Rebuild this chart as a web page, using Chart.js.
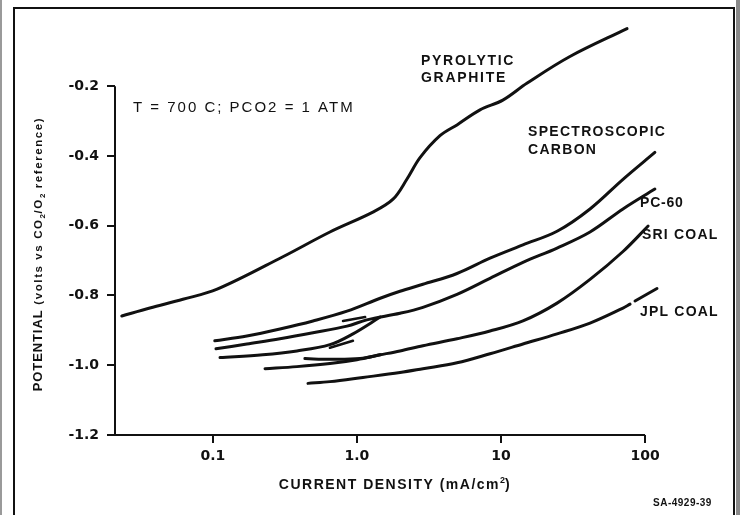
<!DOCTYPE html>
<html>
<head>
<meta charset="utf-8">
<title>Potential vs current density, 700 C</title>
<script src="https://cdn.jsdelivr.net/npm/chart.js@4.4.1/dist/chart.umd.min.js"></script>
<style>
  html, body { margin: 0; padding: 0; background: #fff; }
  #box { width: 740px; height: 515px; position: relative; }
</style>
</head>
<body>
<div id="box"><canvas id="chart"></canvas></div>
<script>
// current density (mA/cm2) on x, potential (volts) on y
const pyroliticX = [0.0233, 0.0365, 0.0619, 0.107, 0.306, 0.649, 1.29, 1.78, 2.22, 2.74, 3.77, 4.95, 7.15, 10.3, 15.2, 30.1, 75];
const pyroliticY = [-0.859, -0.836, -0.811, -0.782, -0.689, -0.618, -0.561, -0.524, -0.467, -0.405, -0.342, -0.311, -0.268, -0.240, -0.191, -0.115, -0.035];

const spectroX = [0.103, 0.172, 0.292, 0.495, 0.853, 1.45, 1.99, 2.87, 4.95, 8.39, 14.2, 24.5, 41.5, 70.3, 117];
const spectroY = [-0.930, -0.916, -0.896, -0.873, -0.845, -0.808, -0.788, -0.768, -0.737, -0.693, -0.655, -0.616, -0.552, -0.467, -0.390];

const pc60X = [0.105, 0.172, 0.292, 0.495, 0.853, 1.17, 1.99, 2.87, 4.95, 8.39, 14.2, 24.5, 41.5, 70.3, 117];
const pc60Y = [-0.953, -0.939, -0.924, -0.907, -0.888, -0.870, -0.851, -0.834, -0.797, -0.751, -0.705, -0.664, -0.618, -0.552, -0.495];
// second branch that runs into the PC-60 curve near 1 mA/cm2
const pc60LowX = [0.112, 0.222, 0.383, 0.649, 0.938, 1.45];
const pc60LowY = [-0.978, -0.970, -0.959, -0.941, -0.910, -0.862];

const sriX = [0.435, 0.649, 1.05, 1.45, 1.99, 2.87, 4.95, 8.39, 14.2, 24.5, 41.5, 70.3, 105];
const sriY = [-0.981, -0.983, -0.981, -0.970, -0.959, -0.944, -0.924, -0.902, -0.873, -0.822, -0.754, -0.674, -0.601];
const sriLowX = [0.230, 0.383, 0.649, 1.0, 1.45];
const sriLowY = [-1.010, -1.004, -0.995, -0.984, -0.970];

const jplX = [0.457, 0.649, 1.10, 1.99, 2.87, 4.95, 8.39, 14.2, 24.5, 41.5, 70.3, 78.7, 82, 85.2, 121];
const jplY = [-1.052, -1.047, -1.035, -1.021, -1.010, -0.993, -0.967, -0.939, -0.910, -0.879, -0.836, -0.825, null, -0.816, -0.780];

// the two little arrow strokes near 1 mA/cm2
const arrowUpX = [0.80, 1.14];
const arrowUpY = [-0.873, -0.862];
const arrowDownX = [0.649, 0.938];
const arrowDownY = [-0.950, -0.930];

const xTicks = [0.1, 1, 10, 100];
const xTickLabels = ["0.1", "1.0", "10", "100"];
const yTicks = [-0.2, -0.4, -0.6, -0.8, -1.0, -1.2];

const INK = "#111";

function pts(xs, ys) {
    return xs.map((x, i) => ({ x: x, y: ys[i] }));
}

function curve(xs, ys, width) {
    return {
        data: pts(xs, ys),
        borderColor: INK,
        borderWidth: width || 3,
        pointRadius: 0,
        fill: false,
        spanGaps: false,
        tension: 0.35,
        borderCapStyle: "round",
        borderJoinStyle: "round"
    };
}

function txt(ctx, s, x, y, font, spacing, align) {
    ctx.font = font;
    ctx.letterSpacing = (spacing || 0) + "px";
    ctx.textAlign = align || "left";
    ctx.textBaseline = "middle";
    ctx.fillText(s, x, y);
}

// draws a run of pieces [text, font, spacing, dy] centred on cx
function runText(ctx, pieces, cx, baseY) {
    let total = 0;
    const widths = pieces.map(p => {
        ctx.font = p[1];
        ctx.letterSpacing = p[2] + "px";
        const w = ctx.measureText(p[0]).width;
        total += w;
        return w;
    });
    let x = cx - total / 2;
    ctx.textAlign = "left";
    ctx.textBaseline = "alphabetic";
    pieces.forEach((p, i) => {
        ctx.font = p[1];
        ctx.letterSpacing = p[2] + "px";
        ctx.fillText(p[0], x, baseY + p[3]);
        x += widths[i];
    });
}

const decor = {
    id: "decor",
    beforeDraw(chart) {
        const ctx = chart.ctx;
        ctx.save();
        ctx.fillStyle = "#fff";
        ctx.fillRect(0, 0, chart.width, chart.height);
        // scan edges
        ctx.fillStyle = "#9a9a9a";
        ctx.fillRect(0, 0, 2, chart.height);
        ctx.fillStyle = "#8a8a8a";
        ctx.fillRect(736, 0, 4, chart.height);
        // frame, open at the bottom
        ctx.strokeStyle = INK;
        ctx.lineWidth = 2;
        ctx.beginPath();
        ctx.moveTo(14, chart.height);
        ctx.lineTo(14, 8);
        ctx.lineTo(734, 8);
        ctx.lineTo(734, chart.height);
        ctx.stroke();
        ctx.restore();
    },
    beforeDatasetsDraw(chart) {
        const ctx = chart.ctx;
        const xs = chart.scales.x, ys = chart.scales.y;
        const left = chart.chartArea.left, bottom = chart.chartArea.bottom;
        ctx.save();
        ctx.strokeStyle = INK;
        ctx.lineWidth = 2;
        ctx.beginPath();
        ctx.moveTo(left, ys.getPixelForValue(-0.2));
        ctx.lineTo(left, bottom);
        ctx.lineTo(xs.getPixelForValue(100), bottom);
        ctx.stroke();
        ctx.restore();
    },
    afterDraw(chart) {
        const ctx = chart.ctx;
        ctx.save();
        ctx.fillStyle = INK;
        const lab = "bold 14px 'Liberation Sans', Arial, sans-serif";

        txt(ctx, "T = 700 C; PCO2 = 1 ATM", 133, 108, "15px 'Liberation Sans', Arial, sans-serif", 2);

        txt(ctx, "PYROLYTIC", 421, 61, lab, 1.7);
        txt(ctx, "GRAPHITE", 421, 78, lab, 1.7);
        txt(ctx, "SPECTROSCOPIC", 528, 132, lab, 1.3);
        txt(ctx, "CARBON", 528, 150, lab, 1.3);
        txt(ctx, "PC-60", 640, 203, lab, 0.8);
        txt(ctx, "SRI COAL", 642, 235, lab, 1.2);
        txt(ctx, "JPL COAL", 640, 312, lab, 1.2);

        txt(ctx, "SA-4929-39", 653, 503, "bold 10px 'Liberation Sans', Arial, sans-serif", 0.5);

        // x axis title
        const xf = "bold 14px 'Liberation Sans', Arial, sans-serif";
        runText(ctx, [
            ["CURRENT DENSITY (mA/cm", xf, 1.5, 0],
            ["2", "bold 9px 'Liberation Sans', Arial, sans-serif", 0, -6],
            [")", xf, 1.5, 0]
        ], 395, 489);

        // y axis title, rotated
        ctx.translate(37, 254);
        ctx.rotate(-Math.PI / 2);
        const big = "bold 13px 'Liberation Sans', Arial, sans-serif";
        const sm = "bold 11.5px 'Liberation Sans', Arial, sans-serif";
        const sub = "bold 8px 'Liberation Sans', Arial, sans-serif";
        runText(ctx, [
            ["POTENTIAL", big, 0.9, 0],
            [" (volts vs CO", sm, 1.6, 0],
            ["2", sub, 0.5, 3],
            ["/O", sm, 1.6, 0],
            ["2", sub, 0.5, 3],
            [" reference)", sm, 1.6, 0]
        ], 0, 5);
        ctx.restore();
    }
};

const tickFont = { family: "'DejaVu Sans', sans-serif", size: 14, weight: "bold" };

new Chart(document.getElementById("chart"), {
    type: "line",
    data: {
        datasets: [
            curve(pyroliticX, pyroliticY),
            curve(spectroX, spectroY),
            curve(pc60X, pc60Y),
            curve(pc60LowX, pc60LowY),
            curve(sriX, sriY),
            curve(sriLowX, sriLowY),
            curve(jplX, jplY),
            curve(arrowUpX, arrowUpY, 2.5),
            curve(arrowDownX, arrowDownY, 2.5)
        ]
    },
    options: {
        responsive: true,
        maintainAspectRatio: false,
        animation: false,
        layout: { padding: { left: 0, top: 13, right: 15, bottom: 0 } },
        plugins: { legend: { display: false }, tooltip: { enabled: false } },
        scales: {
            x: {
                type: "logarithmic",
                min: 0.0209,
                max: 359,
                afterBuildTicks: scale => { scale.ticks = xTicks.map(v => ({ value: v })); },
                afterFit: scale => { scale.height = 80; },
                border: { display: false },
                grid: { drawOnChartArea: false, drawTicks: true, tickLength: 8, color: INK, lineWidth: 2 },
                ticks: {
                    color: INK,
                    font: tickFont,
                    padding: 5,
                    maxRotation: 0,
                    autoSkip: false,
                    callback: v => xTickLabels[xTicks.indexOf(v)]
                }
            },
            y: {
                min: -1.2,
                max: 0,
                afterBuildTicks: scale => { scale.ticks = yTicks.map(v => ({ value: v })); },
                afterFit: scale => { scale.width = 115; },
                border: { display: false },
                grid: { drawOnChartArea: false, drawTicks: true, tickLength: 8, color: INK, lineWidth: 2 },
                ticks: {
                    color: INK,
                    font: tickFont,
                    padding: 8,
                    autoSkip: false,
                    callback: v => v.toFixed(1)
                }
            }
        }
    },
    plugins: [decor]
});
</script>
</body>
</html>
